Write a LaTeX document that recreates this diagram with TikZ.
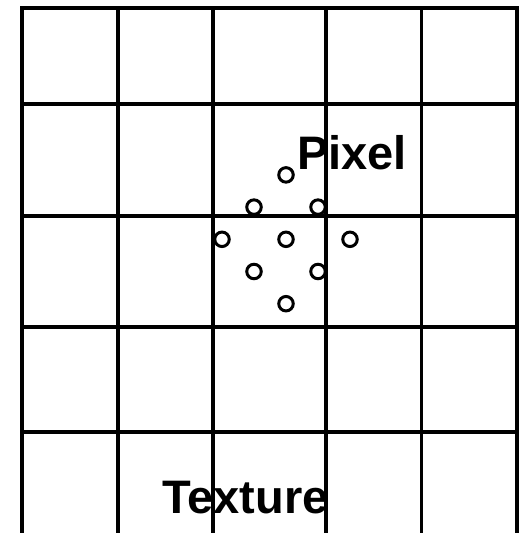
\documentclass[tikz,border=0pt]{standalone}
\usepackage{fontspec}
\setmainfont{Liberation Sans}
\usepackage{tikz}

\begin{document}
\begin{tikzpicture}[x=1pt,y=1pt,font=\bfseries\fontsize{47}{47}\selectfont]
\useasboundingbox (0,0) rectangle (519,533);
\tikzset{
  gridline/.style={line width=3.8pt},
  sample/.style={circle, draw, line width=3pt, minimum size=14.5pt, inner sep=0pt},
  label/.style={anchor=base west, inner sep=0pt}
}
\def\xl{22}\def\xr{517}\def\yt{525}
% texture grid (open at the bottom)
\foreach \x in {22,118,213,326,421.5,517}{
  \draw[gridline] (\x,0) -- (\x,\yt+1.9);
}
\foreach \y in {525,429,317,206,101}{
  \draw[gridline] (\xl-1.9,\y) -- (\xr+1.9,\y);
}
% sample points of the pixel footprint
\foreach \dx/\dy [count=\i] in {0/2,-1/1,1/1,-2/0,0/0,2/0,-1/-1,1/-1,0/-2}{
  \node[sample] (s\i) at (286+32*\dx,293.7+32.2*\dy) {};
}
% labels
\node[label] (pixel) at (297,363) {Pixel};
\node[label] (texture) at (162,19.7) {Texture};
\end{tikzpicture}
\end{document}
